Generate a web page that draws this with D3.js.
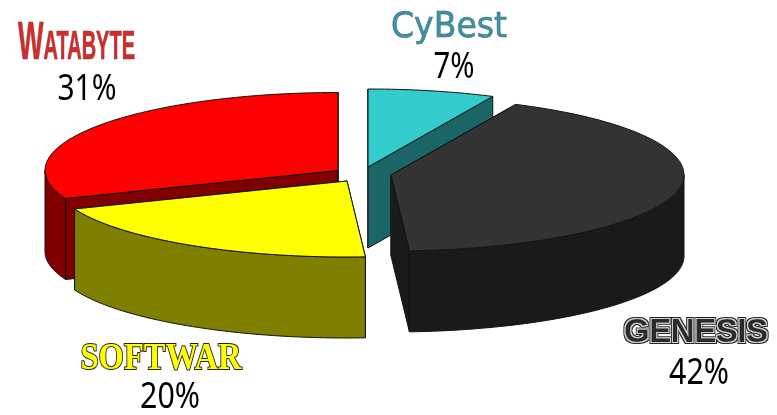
<!DOCTYPE html>
<html>
<head>
<meta charset="utf-8">
<script src="https://cdn.jsdelivr.net/npm/d3@7"></script>
<style>
  html, body { margin: 0; padding: 0; background: #fff; overflow: hidden; }
  svg { display: block; filter: blur(0.45px); }
</style>
</head>
<body>
<div id="chart"></div>
<script>
// Chart data, clockwise from twelve o'clock
const companies = ["CyBest", "GENESIS", "SOFTWAR", "Watabyte"];
const shares = [7, 42, 20, 31];
const topColors = ["#33cccc", "#333333", "#ffff00", "#ff0000"];
const sideColors = ["#1a6666", "#1a1a1a", "#808000", "#800000"];

// Dimensions of the picture and of the tilted pie
const width = 777;
const height = 415;
const rx = 293;
const ryBack = 78;   // the far half of the ellipse is a little deeper
const ryFront = 76;
const depth = 81;

// Where the tip of each exploded slice sits
const tips = [[368, 167], [391, 175], [347, 181], [338, 170.5]];

// Back to front
const drawOrder = [0, 3, 1, 2];

const svg = d3.select("#chart")
  .append("svg")
  .attr("width", width)
  .attr("height", height);

// Stripes for the GENESIS logo, made from the one text element
const stripes = svg.append("defs").append("filter")
  .attr("id", "stripes")
  .attr("x", "-5%").attr("y", "-20%")
  .attr("width", "110%").attr("height", "140%");
stripes.append("feMorphology").attr("in", "SourceAlpha").attr("operator", "dilate").attr("radius", 2).attr("result", "outer");
stripes.append("feFlood").attr("flood-color", "#262626").attr("result", "dark");
stripes.append("feComposite").attr("in", "dark").attr("in2", "outer").attr("operator", "in").attr("result", "outerDark");
stripes.append("feMorphology").attr("in", "SourceAlpha").attr("operator", "dilate").attr("radius", 1).attr("result", "middle");
stripes.append("feFlood").attr("flood-color", "#cfcfcf").attr("result", "light");
stripes.append("feComposite").attr("in", "light").attr("in2", "middle").attr("operator", "in").attr("result", "middleLight");
const stripeMerge = stripes.append("feMerge");
["outerDark", "middleLight", "SourceGraphic"].forEach(n => stripeMerge.append("feMergeNode").attr("in", n));

const slices = d3.pie().sort(null)(shares);

// Project an angle (0 = top, clockwise) on to the ellipse of a slice
const rimPoint = (tip, a, drop = 0) => {
  const c = Math.cos(a);
  return [tip[0] + rx * Math.sin(a), tip[1] - (c > 0 ? ryBack : ryFront) * c + drop];
};

const rimAngles = (a0, a1) => {
  const steps = Math.max(2, Math.ceil((a1 - a0) / 0.02));
  return d3.range(steps + 1).map(i => a0 + (a1 - a0) * i / steps);
};

const line = d3.line();

function addShape(g, points, fill) {
  g.append("path")
    .attr("d", line(points) + "Z")
    .attr("fill", fill)
    .attr("stroke", "#111")
    .attr("stroke-width", 1)
    .attr("stroke-linejoin", "round");
}

drawOrder.forEach(i => {
  const tip = tips[i];
  const s = slices[i];
  const g = svg.append("g").attr("class", "slice");

  // Cut faces
  [s.startAngle, s.endAngle].forEach(a => {
    const rim = rimPoint(tip, a);
    addShape(g, [tip, rim, [rim[0], rim[1] + depth], [tip[0], tip[1] + depth]], sideColors[i]);
  });

  // Outer wall, only the part that faces the viewer
  const from = Math.max(s.startAngle, Math.PI / 2);
  const to = Math.min(s.endAngle, Math.PI * 1.5);
  if (to > from) {
    const angles = rimAngles(from, to);
    addShape(g, angles.map(a => rimPoint(tip, a))
      .concat(angles.slice().reverse().map(a => rimPoint(tip, a, depth))), sideColors[i]);
  }

  // Top
  addShape(g, [tip].concat(rimAngles(s.startAngle, s.endAngle).map(a => rimPoint(tip, a))), topColors[i]);
});

// Percent labels
const percentLabels = [
  { x: 454, y: 78, w: 41 },
  { x: 699, y: 384, w: 60 },
  { x: 170, y: 408, w: 60 },
  { x: 87, y: 100, w: 59 }
];
shares.forEach((v, i) => {
  const p = percentLabels[i];
  svg.append("text")
    .attr("x", p.x)
    .attr("y", p.y)
    .attr("text-anchor", "middle")
    .attr("font-family", "'Noto Sans'")
    .attr("font-size", 37)
    .attr("textLength", p.w)
    .attr("lengthAdjust", "spacingAndGlyphs")
    .attr("fill", "#000")
    .text(v + "%");
});

// Company names, each in its own logo style
svg.append("text")
  .attr("x", 449)
  .attr("y", 37)
  .attr("text-anchor", "middle")
  .attr("font-family", "'DejaVu Sans'")
  .attr("font-size", 36)
  .attr("textLength", 116)
  .attr("lengthAdjust", "spacingAndGlyphs")
  .attr("fill", "#4292a2")
  .attr("stroke", "#2f6f7c")
  .attr("stroke-width", 0.6)
  .text(companies[0]);

svg.append("text")
  .attr("x", 696)
  .attr("y", 342)
  .attr("text-anchor", "middle")
  .attr("font-family", "'Liberation Sans'")
  .attr("font-weight", "bold")
  .attr("font-size", 33)
  .attr("textLength", 144)
  .attr("lengthAdjust", "spacing")
  .attr("fill", "#2b2b2b")
  .attr("filter", "url(#stripes)")
  .text(companies[1]);

svg.append("text")
  .attr("x", 161)
  .attr("y", 369)
  .attr("text-anchor", "middle")
  .attr("font-family", "'Liberation Serif'")
  .attr("font-weight", "bold")
  .attr("font-size", 38)
  .attr("textLength", 161)
  .attr("lengthAdjust", "spacingAndGlyphs")
  .attr("fill", "#ffff00")
  .attr("stroke", "#222")
  .attr("stroke-width", 2)
  .attr("paint-order", "stroke")
  .text(companies[2]);

const wata = svg.append("text")
  .attr("x", 18)
  .attr("y", 59)
  .attr("font-family", "'Liberation Sans Narrow', 'Liberation Sans'")
  .attr("font-weight", "bold")
  .attr("textLength", 117)
  .attr("lengthAdjust", "spacingAndGlyphs")
  .attr("fill", "#d62b2b")
  .attr("stroke", "#7a3a3a")
  .attr("stroke-width", 0.6);
wata.append("tspan").attr("font-size", 54).text(companies[3].charAt(0));
wata.append("tspan").attr("font-size", 40).text(companies[3].slice(1).toUpperCase());
</script>
</body>
</html>
